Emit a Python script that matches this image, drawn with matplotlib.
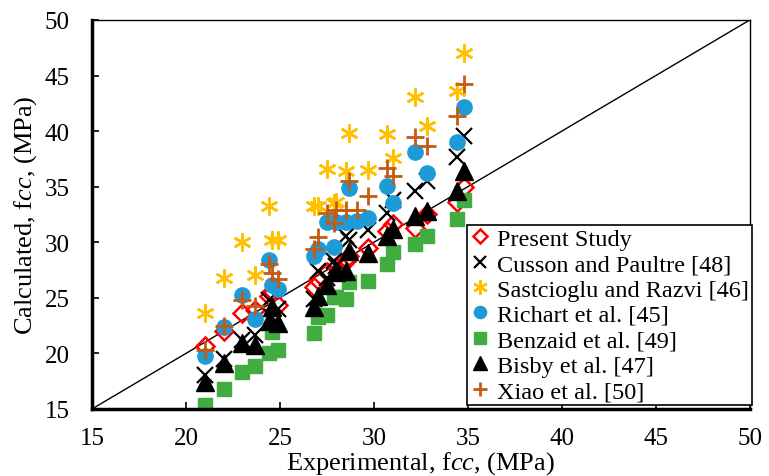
import numpy as np
import matplotlib.pyplot as plt
from matplotlib.lines import Line2D

plt.rcParams['font.family'] = 'Liberation Serif'
plt.rcParams['mathtext.fontset'] = 'custom'
plt.rcParams['mathtext.rm'] = 'Liberation Serif'
plt.rcParams['mathtext.it'] = 'Liberation Serif:italic'

# experimental confined strength of the specimens (MPa)
experimental = [21.0, 22.0, 23.0, 23.7, 24.4, 24.6, 24.9, 26.8, 27.0, 27.5, 27.9,
                28.0, 28.5, 28.7, 29.1, 29.7, 30.7, 31.0, 32.2, 32.8, 34.4, 34.8]

# calculated strength by each model (nan = point not shown)
nan = np.nan
present_study = [20.7, 22.0, 23.6, 23.9, 25.2, 25.6, 24.4, 26.0, 26.6, 27.3, nan,
                 27.8, 28.3, 28.8, nan, 29.5, 31.0, 31.6, 31.3, 32.5, 33.6, 35.0]
cusson = [18.1, 19.5, 21.2, 21.7, 24.8, 23.3, 24.0, 24.9, 27.4, 26.8, 28.3,
          27.9, 30.6, 30.2, nan, 31.1, 32.6, 33.8, 34.6, 35.5, 37.7, 39.6]
sastcioglu = [23.6, 26.8, 30.0, 27.1, 33.3, 30.2, 30.2, 33.3, 33.3, 36.6, 33.5,
              33.6, 36.4, 39.8, nan, 36.5, 39.7, 37.6, 43.1, 40.5, 43.6, 47.0]
richart = [19.8, 22.4, 25.3, 23.1, 28.4, 26.2, 25.8, 28.8, 29.4, 31.8, 29.6,
           31.8, 31.8, 34.9, 31.9, 32.2, 35.1, 33.5, 38.1, 36.2, 39.0, 42.2]
benzaid = [15.4, 16.8, 18.3, 18.9, 20.0, 21.9, 20.3, 21.8, 23.3, 23.5, 25.1,
           25.1, 24.9, 26.4, nan, 26.5, 28.0, 29.1, 29.8, 30.6, 32.1, 33.8]
bisby = [17.4, 19.1, 20.9, 20.8, 22.9, 24.2, 22.7, 24.2, 25.2, 26.2, nan,
         27.3, 27.4, 29.2, nan, 29.0, 30.6, 31.2, 32.4, 32.8, 34.6, 36.4]
xiao = [20.3, 22.5, 24.8, 24.3, 28.0, 27.2, 26.7, 29.4, 30.5, 32.6, 31.7,
        32.9, 32.9, 35.5, 32.9, 34.2, 36.7, 36.0, 39.5, 38.7, 41.4, 44.2]

series = [
    ('Present Study', present_study, dict(marker='D', ms=9.5, mfc='none', mec='#FF0000', mew=1.8)),
    ('Cusson and Paultre [48]', cusson, dict(marker='x', ms=11, mec='black', mew=1.6)),
    ('Sastcioglu and Razvi [46]', sastcioglu, dict(marker=(6, 2, 0), ms=13, mec='#FFC000', mew=1.8)),
    ('Richart et al. [45]', richart, dict(marker='o', ms=11, mfc='#1E9BD7', mec='#1E9BD7')),
    ('Benzaid et al. [49]', benzaid, dict(marker='s', ms=10, mfc='#41AD41', mec='#41AD41')),
    ('Bisby et al. [47]', bisby, dict(marker='^', ms=12.5, mfc='black', mec='black')),
    ('Xiao et al. [50]', xiao, dict(marker='+', ms=13, mec='#C55A11', mew=2)),
]

fig = plt.figure(figsize=(7.69, 4.77), dpi=100)
ax = fig.add_axes([0.1196, 0.1405, 0.8554, 0.8155])

# line of equality
ax.plot([15, 50], [15, 50], color='black', lw=1, zorder=1)

handles = []
for label, vals, style in series:
    ax.plot(experimental, vals, ls='none', zorder=2, **style)
    handles.append(Line2D([], [], ls='none', label=label,
                          **{**style, 'ms': style['ms'] * 0.8}))

ax.set_xlim(15, 50)
ax.set_ylim(15, 50)
ax.set_xticks(np.arange(15, 51, 5))
ax.set_yticks(np.arange(15, 51, 5))
ax.tick_params(direction='in', length=5, width=1.2, labelsize=18)
ax.tick_params(axis='y', pad=16)
ax.tick_params(axis='x', pad=13)

for side in ['left', 'bottom']:
    ax.spines[side].set_linewidth(2.5)
for side in ['top', 'right']:
    ax.spines[side].set_linewidth(1)

ax.set_xlabel('Experimental, f$\\it{cc}$, (MPa)', fontsize=19, labelpad=0)
ax.set_ylabel('Calculated, f$\\it{cc}$, (MPa)', fontsize=19, labelpad=4)

leg = ax.legend(handles=handles, loc='lower right', bbox_to_anchor=(1.003, 0.01),
                borderaxespad=0, fontsize=17.5, handlelength=0.8, handletextpad=0.3,
                labelspacing=0.14, borderpad=0.12, fancybox=False, framealpha=1,
                edgecolor='black')
leg.get_frame().set_linewidth(1.2)

fig.savefig('out.png', dpi=100)
